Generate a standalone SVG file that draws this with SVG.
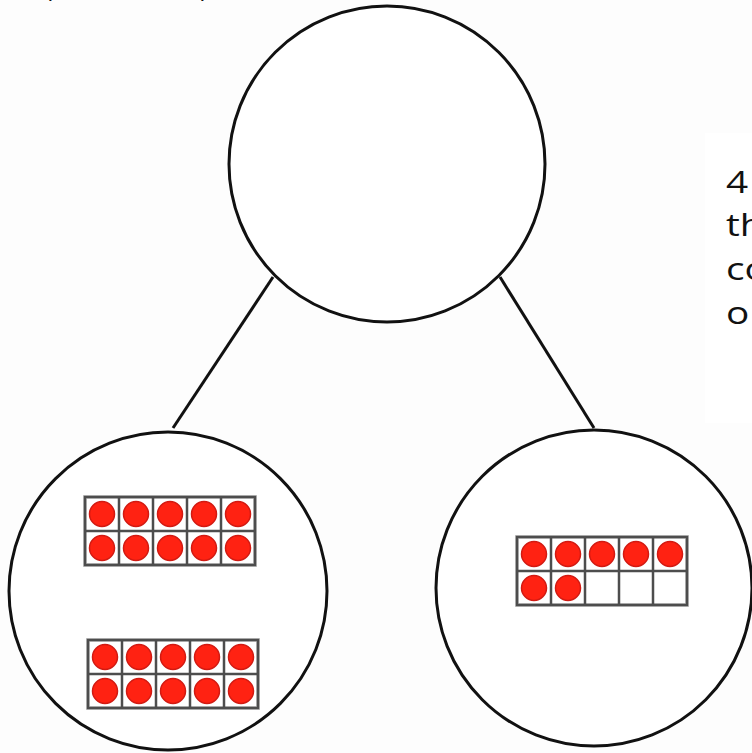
<svg xmlns="http://www.w3.org/2000/svg" xmlns:xlink="http://www.w3.org/1999/xlink" width="752" height="753" viewBox="0 0 752 753">
<style>
.node{fill:#fff;stroke:#111;stroke-width:3}
.edge{stroke:#111;stroke-width:3;fill:none}
.txt{font-family:"Open Sans","Liberation Sans",sans-serif;font-size:31px;fill:#111}
.outer{fill:#fff;stroke:#c8c8c8;stroke-width:4}
.inner{fill:none;stroke:#4d4d4d;stroke-width:2.5}
.dot{fill:#ff2212;stroke:#d21a12;stroke-width:1.5}
</style>
<defs>
<g id="frame">
<rect class="outer" x="0" y="0" width="170" height="68"/>
<rect class="inner" x="0" y="0" width="170" height="68"/>
<path class="inner" d="M34 0V68M68 0V68M102 0V68M136 0V68M0 34H170"/>
</g>
<circle id="dot" class="dot" r="12.5"/>
</defs>
<rect width="752" height="753" fill="#fdfdfd"/>
<rect x="705" y="133" width="47" height="290" fill="#ffffff"/>
<text class="txt" x="48" y="-3">,</text>
<text class="txt" x="200" y="-3">,</text>
<g id="connectors">
<line class="edge" x1="273" y1="277" x2="173" y2="428"/>
<line class="edge" x1="500" y1="277" x2="594" y2="428"/>
</g>
<g id="whole">
<circle class="node" cx="387" cy="164" r="158"/>
</g>
<g id="part-left">
<circle class="node" cx="168" cy="591" r="159"/>
<g transform="translate(85 497)">
<use xlink:href="#frame"/>
<use xlink:href="#dot" x="17" y="17"/><use xlink:href="#dot" x="51" y="17"/><use xlink:href="#dot" x="85" y="17"/><use xlink:href="#dot" x="119" y="17"/><use xlink:href="#dot" x="153" y="17"/>
<use xlink:href="#dot" x="17" y="51"/><use xlink:href="#dot" x="51" y="51"/><use xlink:href="#dot" x="85" y="51"/><use xlink:href="#dot" x="119" y="51"/><use xlink:href="#dot" x="153" y="51"/>
</g>
<g transform="translate(88 640)">
<use xlink:href="#frame"/>
<use xlink:href="#dot" x="17" y="17"/><use xlink:href="#dot" x="51" y="17"/><use xlink:href="#dot" x="85" y="17"/><use xlink:href="#dot" x="119" y="17"/><use xlink:href="#dot" x="153" y="17"/>
<use xlink:href="#dot" x="17" y="51"/><use xlink:href="#dot" x="51" y="51"/><use xlink:href="#dot" x="85" y="51"/><use xlink:href="#dot" x="119" y="51"/><use xlink:href="#dot" x="153" y="51"/>
</g>
</g>
<g id="part-right">
<circle class="node" cx="594" cy="588" r="158"/>
<g transform="translate(517 537)">
<use xlink:href="#frame"/>
<use xlink:href="#dot" x="17" y="17"/><use xlink:href="#dot" x="51" y="17"/><use xlink:href="#dot" x="85" y="17"/><use xlink:href="#dot" x="119" y="17"/><use xlink:href="#dot" x="153" y="17"/>
<use xlink:href="#dot" x="17" y="51"/><use xlink:href="#dot" x="51" y="51"/>
</g>
</g>
<g id="side-text" transform="translate(726 0) scale(1.25 1) translate(-726 0)">
<text class="txt" x="726" y="193">4</text>
<text class="txt" x="726" y="236">th</text>
<text class="txt" x="726" y="280">co</text>
<text class="txt" x="726" y="324">o</text>
</g>
</svg>
